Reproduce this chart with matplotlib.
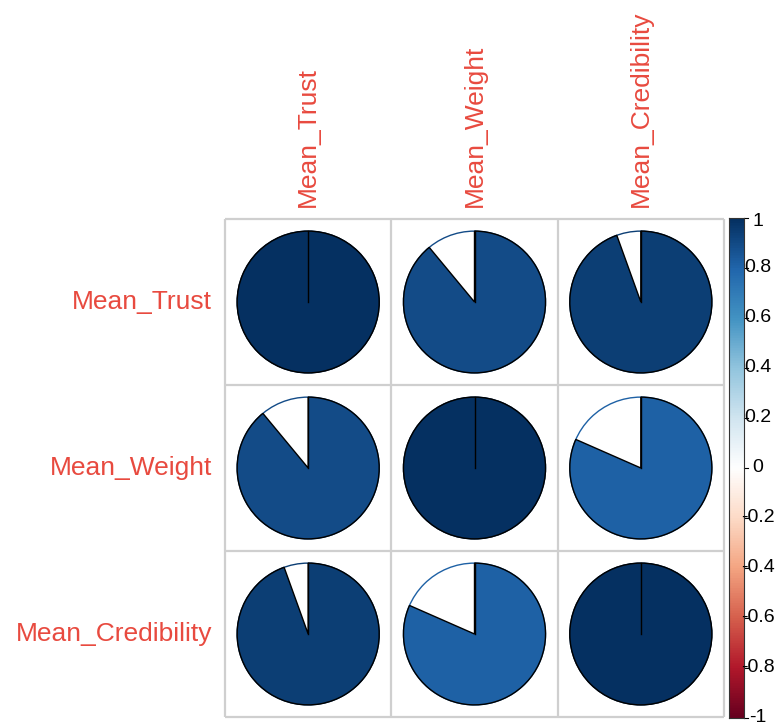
import numpy as np
import matplotlib
matplotlib.use("Agg")
import matplotlib.pyplot as plt
from matplotlib.colors import LinearSegmentedColormap, Normalize
from matplotlib.patches import Circle, Wedge

# Correlation matrix of the three mean scores
variables = ["Mean_Trust", "Mean_Weight", "Mean_Credibility"]
r_trust_weight = 0.89
r_trust_cred = 0.945
r_weight_cred = 0.816
corr = np.array([
    [1.0, r_trust_weight, r_trust_cred],
    [r_trust_weight, 1.0, r_weight_cred],
    [r_trust_cred, r_weight_cred, 1.0],
])
bar_ticks = [1, 0.8, 0.6, 0.4, 0.2, 0, -0.2, -0.4, -0.6, -0.8, -1]

# Diverging red-blue palette
rdbu = ["#67001F", "#B2182B", "#D6604D", "#F4A582", "#FDDBC7", "#FFFFFF",
        "#D1E5F0", "#92C5DE", "#4393C3", "#2166AC", "#053061"]
cmap = LinearSegmentedColormap.from_list("rdbu", rdbu, N=200)
norm = Normalize(-1, 1)

W, H = 782, 728
fig = plt.figure(figsize=(W / 100, H / 100), dpi=100)
plt.rcParams["font.family"] = ["Liberation Sans", "DejaVu Sans"]
label_col = "#E84A3F"

# Matrix panel
gx0, gx1, gy0, gy1 = 225, 724, 219, 717
ax = fig.add_axes([gx0 / W, (H - gy1) / H, (gx1 - gx0) / W, (gy1 - gy0) / H])
n = len(variables)
ax.set_xlim(0.5, n + 0.5)
ax.set_ylim(0.5, n + 0.5)
ax.set_axis_off()

grid_col = "#CFCFCF"
for k in range(n + 1):
    ax.plot([0.5 + k, 0.5 + k], [0.5, n + 0.5], color=grid_col, lw=1.6,
            solid_capstyle="butt", clip_on=False, zorder=1)
    ax.plot([0.5, n + 0.5], [0.5 + k, 0.5 + k], color=grid_col, lw=1.6,
            solid_capstyle="butt", clip_on=False, zorder=1)

radius = 0.427
for i in range(n):
    for j in range(n):
        v = corr[i, j]
        cx, cy = j + 1, n - i
        col = cmap(norm(v))
        ax.add_patch(Circle((cx, cy), radius, facecolor="white", edgecolor=col,
                            lw=1.0, zorder=2))
        ax.add_patch(Wedge((cx, cy), radius, 90 - 360 * v, 90, facecolor=col,
                           edgecolor="black", lw=1.0, zorder=3))
        # radial edge at twelve o'clock (not drawn by a full 360° wedge)
        ax.plot([cx, cx], [cy, cy + radius], color="black", lw=1.0, zorder=4)

# Row and column labels
for i, name in enumerate(variables):
    ax.text(0.5 - 13 / 166.3, n - i, name, ha="right", va="center",
            fontsize=19, color=label_col)
    ax.text(i + 1, n + 0.5 + 12 / 166, name, ha="center", va="bottom",
            rotation=90, fontsize=19, color=label_col)

# Colour bar
bx0, bx1, by0, by1 = 729, 744, 218, 718
cax = fig.add_axes([bx0 / W, (H - by1) / H, (bx1 - bx0) / W, (by1 - by0) / H])
grad = np.linspace(-1, 1, 400).reshape(-1, 1)
cax.imshow(grad, cmap=cmap, norm=norm, aspect="auto", origin="lower",
           extent=[0, 1, -1, 1])
cax.set_xlim(0, 1)
cax.set_ylim(-1, 1)
cax.set_xticks([])
cax.set_yticks([])
for s in cax.spines.values():
    s.set_color("#333333")
    s.set_linewidth(0.8)

px = 1.0 / (bx1 - bx0)  # one pixel in colour-bar x units
py = 2.0 / (by1 - by0)  # one pixel in colour-bar y units
for t in bar_ticks:
    cax.plot([1, 1 + 4 * px], [t, t], color="black", lw=0.8, clip_on=False)
    txt = f"-{abs(t):g}" if t < 0 else f"{t:g}"
    ty = t - 3 * py if t == 1 else (t + 1 * py if t == -1 else t)
    cax.text(1 + 14 * px, ty, txt, ha="center", va="center", fontsize=14,
             color="black", clip_on=False)

fig.savefig("out.png", dpi=100, facecolor="white")
